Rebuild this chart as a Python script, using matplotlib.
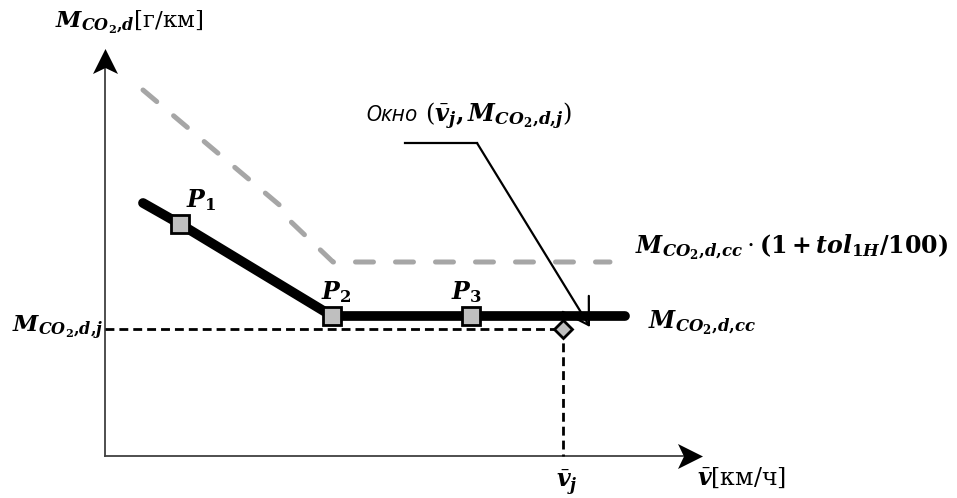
import matplotlib
matplotlib.use("Agg")
import matplotlib.pyplot as plt
from matplotlib.path import Path

plt.rcParams['mathtext.fontset'] = 'dejavuserif'

# schematic data (arbitrary units: speed on x, CO2 mass on y)
line_x = [38, 75, 227, 520]
line_y = [253, 232, 140, 140]
pts_x = [75, 227, 366]
pts_y = [232, 140, 140]
pts_labels = [r'$\mathbfit{P}_{\mathbf{1}}$', r'$\mathbfit{P}_{\mathbf{2}}$', r'$\mathbfit{P}_{\mathbf{3}}$']
tol_x = [38, 178, 182, 228, 505]
tol_y = [366, 248, 238, 194, 194]
vj = 458
mj = 127
x_axis_end = 597
y_axis_end = 408

M = r'\mathbfit{M}'
CO2 = r'\mathbfit{CO}_{\mathbf{2}}'

fig = plt.figure(figsize=(9.57, 4.98), dpi=100)
ax = fig.add_axes([0, 0, 1, 1])
ax.set_xlim(-105, 852)
ax.set_ylim(-42, 456)
ax.axis('off')

# axes with stealth arrow heads
axis_col = '#404040'
head = 25       # head length (data units == pixels here)
notch = 6
ax.plot([0, x_axis_end - head + notch], [0, 0], color=axis_col, lw=1.3, zorder=1)
ax.plot([0, 0], [0, y_axis_end - head + notch], color=axis_col, lw=1.3, zorder=1)
up = Path([(0, 0.5), (0.5, -0.5), (0, -0.26), (-0.5, -0.5), (0, 0.5)],
          [Path.MOVETO, Path.LINETO, Path.LINETO, Path.LINETO, Path.CLOSEPOLY])
right = Path([(0.5, 0), (-0.5, 0.5), (-0.26, 0), (-0.5, -0.5), (0.5, 0)],
             [Path.MOVETO, Path.LINETO, Path.LINETO, Path.LINETO, Path.CLOSEPOLY])
ax.plot([0], [y_axis_end - head / 2], marker=up, markersize=18, color='black',
        markeredgewidth=0, linestyle='none', zorder=2)
ax.plot([x_axis_end - head / 2], [0], marker=right, markersize=18, color='black',
        markeredgewidth=0, linestyle='none', zorder=2)

# tolerance line (grey dashed)
ax.plot(tol_x, tol_y, color='#a6a6a6', lw=3.6, linestyle=(0, (3.6, 4.4)),
        dash_capstyle='round', solid_joinstyle='round', zorder=2)

# reference line
ax.plot(line_x, line_y, color='black', lw=7, solid_capstyle='round',
        solid_joinstyle='round', zorder=3)

# dashed projections
ax.plot([0, vj], [mj, mj], color='black', lw=2, linestyle=(0, (3.2, 1.8)), zorder=2)
ax.plot([vj, vj], [mj, 0], color='black', lw=2, linestyle=(0, (3.2, 1.8)), zorder=2)

# points
ax.plot(pts_x, pts_y, linestyle='none', marker='s', markersize=12.5,
        markerfacecolor='#bfbfbf', markeredgecolor='black', markeredgewidth=2, zorder=4)
ax.plot([vj], [mj], linestyle='none', marker='D', markersize=9,
        markerfacecolor='#bfbfbf', markeredgecolor='black', markeredgewidth=2, zorder=4)

for lab, (dx, dy) in zip(pts_labels, [(96, 256), (231, 164), (361, 164)]):
    ax.text(dx, dy, lab, fontsize=17, ha='center', va='center')

# annotation arrow ("window")
ax.plot([300, 372], [313, 313], color='black', lw=1.6)
ax.annotate('', xy=(485, 129), xytext=(372, 313),
            arrowprops=dict(arrowstyle='->,head_length=0.9,head_width=0.55',
                            mutation_scale=20, lw=1.6, color='black',
                            shrinkA=0, shrinkB=0))

# texts
fs = 16.5
ax.text(-50, 434, r'$' + M + r'_{' + CO2 + r'\mathbf{,}\mathbfit{d}}$[г/км]',
        fontsize=fs, family='DejaVu Serif', ha='left', va='center')
ax.text(260, 341, 'Окно', fontsize=16, family='Open Sans', style='italic',
        ha='left', va='center')
ax.text(320, 340, r'$\left(\bar{\mathbfit{v}}_{\mathbfit{j}}\mathbf{,}\,' + M + r'_{' + CO2
        + r'\mathbf{,}\mathbfit{d}\mathbf{,}\mathbfit{j}}\right)$',
        fontsize=17.5, ha='left', va='center')
ax.text(530, 209, r'$' + M + r'_{' + CO2 + r'\mathbf{,}\mathbfit{d}\mathbf{,}\mathbfit{cc}}'
        r'\cdot\mathbf{(1+}\mathbfit{tol}_{\mathbf{1}\mathbfit{H}}\mathbf{/100)}$',
        fontsize=17, ha='left', va='center')
ax.text(543, 133, r'$' + M + r'_{' + CO2 + r'\mathbf{,}\mathbfit{d}\mathbf{,}\mathbfit{cc}}$',
        fontsize=17, ha='left', va='center')
ax.text(-93, 128, r'$' + M + r'_{' + CO2 + r'\mathbf{,}\mathbfit{d}\mathbf{,}\mathbfit{j}}$',
        fontsize=fs, ha='left', va='center')
ax.text(vj + 4, -26, r'$\bar{\mathbfit{v}}_{\mathbfit{j}}$', fontsize=17, ha='center', va='center')
ax.text(592, -22, r'$\bar{\mathbfit{v}}$[км/ч]', fontsize=17, family='DejaVu Serif',
        ha='left', va='center')

fig.savefig('out.png', dpi=100)
